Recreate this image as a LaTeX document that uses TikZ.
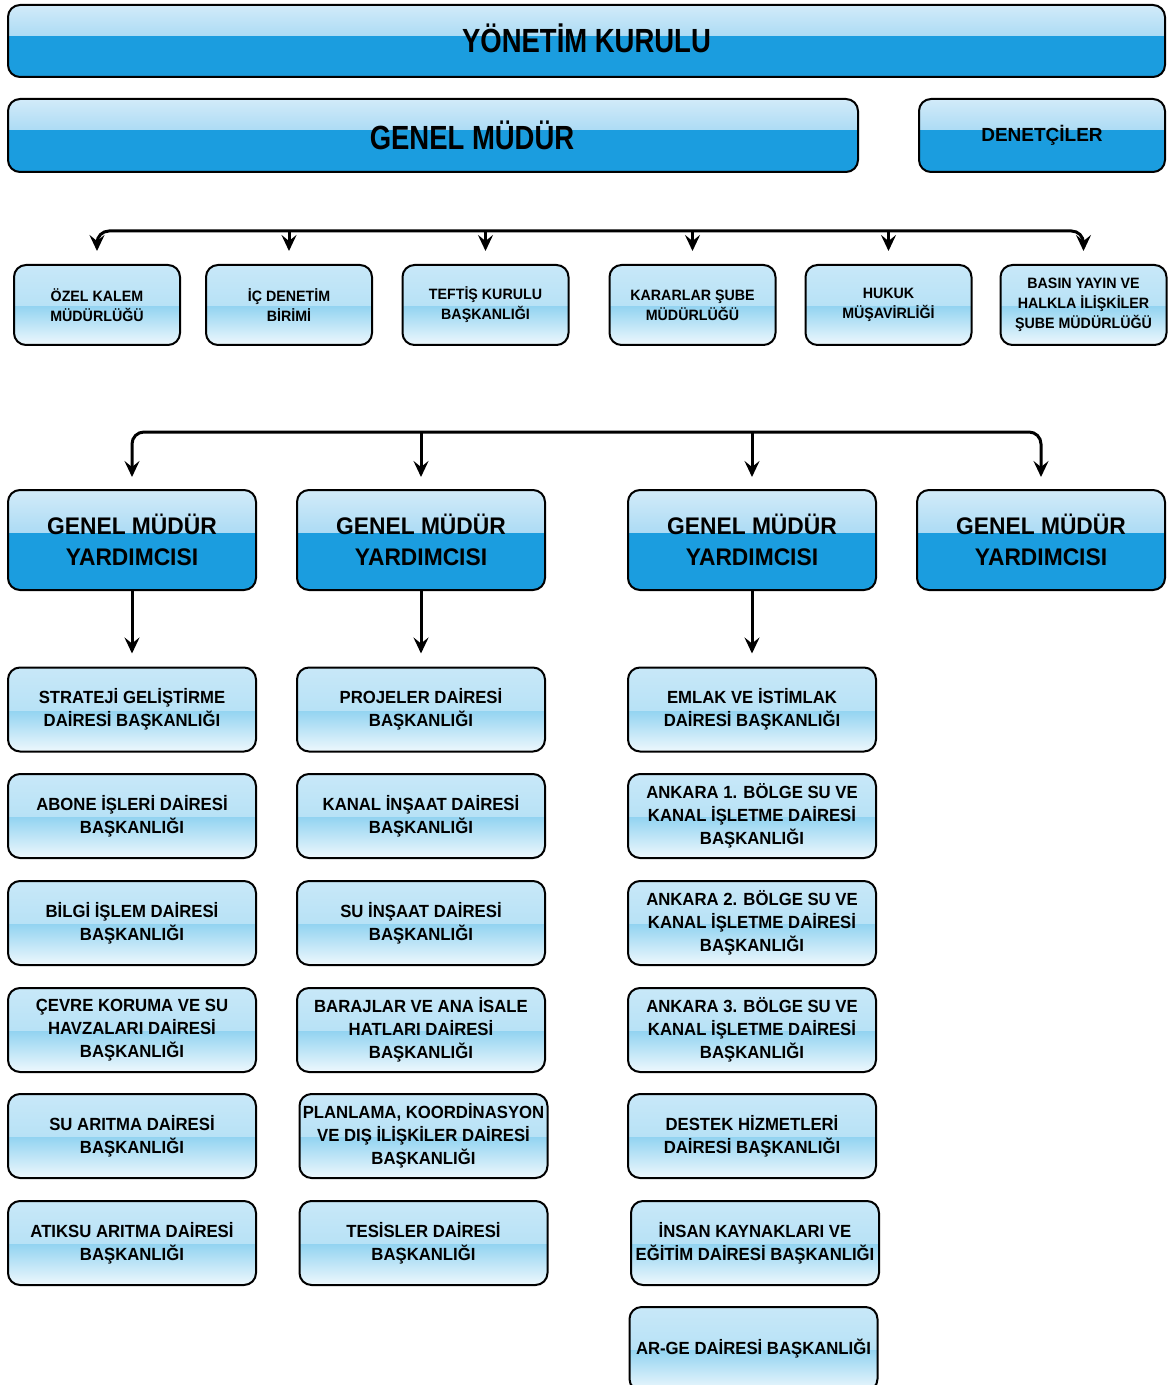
\documentclass[tikz,border=0pt]{standalone}
\usepackage{fontspec}
\setmainfont{Liberation Sans}
\newfontfamily\condfont[FakeStretch=0.95]{Liberation Sans}
\newfontfamily\titlefont[FakeStretch=0.82]{Liberation Sans}
\usetikzlibrary{arrows.meta,calc}

\definecolor{dkbase}{HTML}{1B9DDF}
\definecolor{dkgloss}{HTML}{7AC6EE}
\definecolor{dktop}{HTML}{D2EBF9}
\definecolor{ltbot}{HTML}{EEF8FD}
\definecolor{ltmid}{HTML}{94D4F1}
\definecolor{ltup}{HTML}{A8DCF4}
\definecolor{lttop}{HTML}{C8E8F8}

\begin{document}
\begin{tikzpicture}[x=0.5pt,y=-0.5pt,
  darkbox/.style={draw=black,line width=1pt,rounded corners=6pt,fill=dkbase,align=center,inner sep=0pt,
    path picture={\shade[sharp corners,top color=dktop,bottom color=dkgloss] (path picture bounding box.north west) rectangle ($(path picture bounding box.north east)!0.42!(path picture bounding box.south east)$);}},
  gmybox/.style={darkbox,minimum width=124pt,minimum height=50pt,font=\condfont\bfseries\fontsize{12}{15.5}\selectfont},
  lightbox/.style={draw=black,line width=1pt,rounded corners=6pt,fill=ltbot,align=center,inner sep=0pt,minimum width=124pt,minimum height=42pt,font=\condfont\bfseries\fontsize{8.8}{11.5}\selectfont,
    path picture={\shade[sharp corners,top color=lttop,bottom color=ltup] (path picture bounding box.north west) rectangle ($(path picture bounding box.north east)!0.52!(path picture bounding box.south east)$);
      \shade[sharp corners,top color=ltmid,bottom color=ltbot] ($(path picture bounding box.north west)!0.52!(path picture bounding box.south west)$) rectangle (path picture bounding box.south east);}},
  topbox/.style={lightbox,minimum width=83pt,minimum height=40pt,font=\condfont\bfseries\fontsize{7.5}{10}\selectfont},
  link/.style={-{Stealth[length=8pt,width=7.5pt,inset=3pt]},line width=1.5pt},
  bracket/.style={{Stealth[length=8pt,width=7.5pt,inset=3pt]}-{Stealth[length=8pt,width=7.5pt,inset=3pt]},line width=1.5pt,rounded corners=6pt}]
\useasboundingbox (0,0) rectangle (1170,1385);

\node[darkbox,minimum width=578.5pt,minimum height=36pt,font=\titlefont\bfseries\fontsize{16.75}{20}\selectfont] (yk) at (586.5,41) {YÖNETİM KURULU\rule[-3pt]{0pt}{1pt}};
\node[darkbox,minimum width=425pt,minimum height=36.5pt,font=\titlefont\bfseries\fontsize{16.75}{20}\selectfont] (gm) at (433,135.5) {\hspace*{39pt}GENEL MÜDÜR};
\node[darkbox,minimum width=123pt,minimum height=36.5pt,font=\bfseries\fontsize{9.5}{11}\selectfont] (den) at (1042,135.5) {DENETÇİLER};

\node[topbox] (ozk) at (97,305) {ÖZEL KALEM\\MÜDÜRLÜĞÜ};
\node[topbox] (icd) at (289,305) {İÇ DENETİM\\BİRİMİ};
\node[topbox] (tef) at (485.5,305) {TEFTİŞ KURULU\\BAŞKANLIĞI};
\node[topbox] (kar) at (692.5,305) {KARARLAR ŞUBE\\MÜDÜRLÜĞÜ};
\node[topbox] (huk) at (888.5,305) {HUKUK\\MÜŞAVİRLİĞİ};
\node[topbox] (bas) at (1083.5,305) {BASIN YAYIN VE\\HALKLA İLİŞKİLER\\ŞUBE MÜDÜRLÜĞÜ};

\coordinate (busA) at (0,231);
\draw[bracket] ([yshift=6.5pt]ozk.north) -- (ozk.north |- busA) -- (bas.north |- busA) -- ([yshift=6.5pt]bas.north);
\draw[link] (busA -| icd.north) -- ([yshift=6.5pt]icd.north);
\draw[link] (busA -| tef.north) -- ([yshift=6.5pt]tef.north);
\draw[link] (busA -| kar.north) -- ([yshift=6.5pt]kar.north);
\draw[link] (busA -| huk.north) -- ([yshift=6.5pt]huk.north);

\node[gmybox] (gmy1) at (132,540) {GENEL MÜDÜR\\YARDIMCISI};
\node[gmybox] (gmy2) at (421,540) {GENEL MÜDÜR\\YARDIMCISI};
\node[gmybox] (gmy3) at (752,540) {GENEL MÜDÜR\\YARDIMCISI};
\node[gmybox] (gmy4) at (1041,540) {GENEL MÜDÜR\\YARDIMCISI};

\coordinate (busB) at (0,432);
\draw[bracket] ([yshift=6pt]gmy1.north) -- (gmy1.north |- busB) -- (gmy4.north |- busB) -- ([yshift=6pt]gmy4.north);
\draw[link] (busB -| gmy2.north) -- ([yshift=6pt]gmy2.north);
\draw[link] (busB -| gmy3.north) -- ([yshift=6pt]gmy3.north);

\node[lightbox] (str) at (132,709.5) {STRATEJİ GELİŞTİRME\\DAİRESİ BAŞKANLIĞI};
\node[lightbox] (abo) at (132,816) {ABONE İŞLERİ DAİRESİ\\BAŞKANLIĞI};
\node[lightbox] (bil) at (132,923) {BİLGİ İŞLEM DAİRESİ\\BAŞKANLIĞI};
\node[lightbox] (cev) at (132,1030) {ÇEVRE KORUMA VE SU\\HAVZALARI DAİRESİ\\BAŞKANLIĞI};
\node[lightbox] (sua) at (132,1136) {SU ARITMA DAİRESİ\\BAŞKANLIĞI};
\node[lightbox] (ati) at (132,1243) {ATIKSU ARITMA DAİRESİ\\BAŞKANLIĞI};

\node[lightbox] (pro) at (421,709.5) {PROJELER DAİRESİ\\BAŞKANLIĞI};
\node[lightbox] (kan) at (421,816) {KANAL İNŞAAT DAİRESİ\\BAŞKANLIĞI};
\node[lightbox] (sui) at (421,923) {SU İNŞAAT DAİRESİ\\BAŞKANLIĞI};
\node[lightbox] (bar) at (421,1030) {BARAJLAR VE ANA İSALE\\HATLARI DAİRESİ\\BAŞKANLIĞI};
\node[lightbox] (pla) at (423.5,1136) {PLANLAMA, KOORDİNASYON\\VE DIŞ İLİŞKİLER DAİRESİ\\BAŞKANLIĞI};
\node[lightbox] (tes) at (423.5,1243) {TESİSLER DAİRESİ\\BAŞKANLIĞI};

\node[lightbox] (eml) at (752,709.5) {EMLAK VE İSTİMLAK\\DAİRESİ BAŞKANLIĞI};
\node[lightbox] (ank1) at (752,816) {ANKARA 1. BÖLGE SU VE\\KANAL İŞLETME DAİRESİ\\BAŞKANLIĞI};
\node[lightbox] (ank2) at (752,923) {ANKARA 2. BÖLGE SU VE\\KANAL İŞLETME DAİRESİ\\BAŞKANLIĞI};
\node[lightbox] (ank3) at (752,1030) {ANKARA 3. BÖLGE SU VE\\KANAL İŞLETME DAİRESİ\\BAŞKANLIĞI};
\node[lightbox] (des) at (752,1136) {DESTEK HİZMETLERİ\\DAİRESİ BAŞKANLIĞI};
\node[lightbox] (ins) at (755,1243) {İNSAN KAYNAKLARI VE\\EĞİTİM DAİRESİ BAŞKANLIĞI};
\node[lightbox] (arg) at (753.5,1349) {AR-GE DAİRESİ BAŞKANLIĞI};

\draw[link] (gmy1.south) -- ([yshift=6.5pt]str.north);
\draw[link] (gmy2.south) -- ([yshift=6.5pt]pro.north);
\draw[link] (gmy3.south) -- ([yshift=6.5pt]eml.north);
\end{tikzpicture}
\end{document}
